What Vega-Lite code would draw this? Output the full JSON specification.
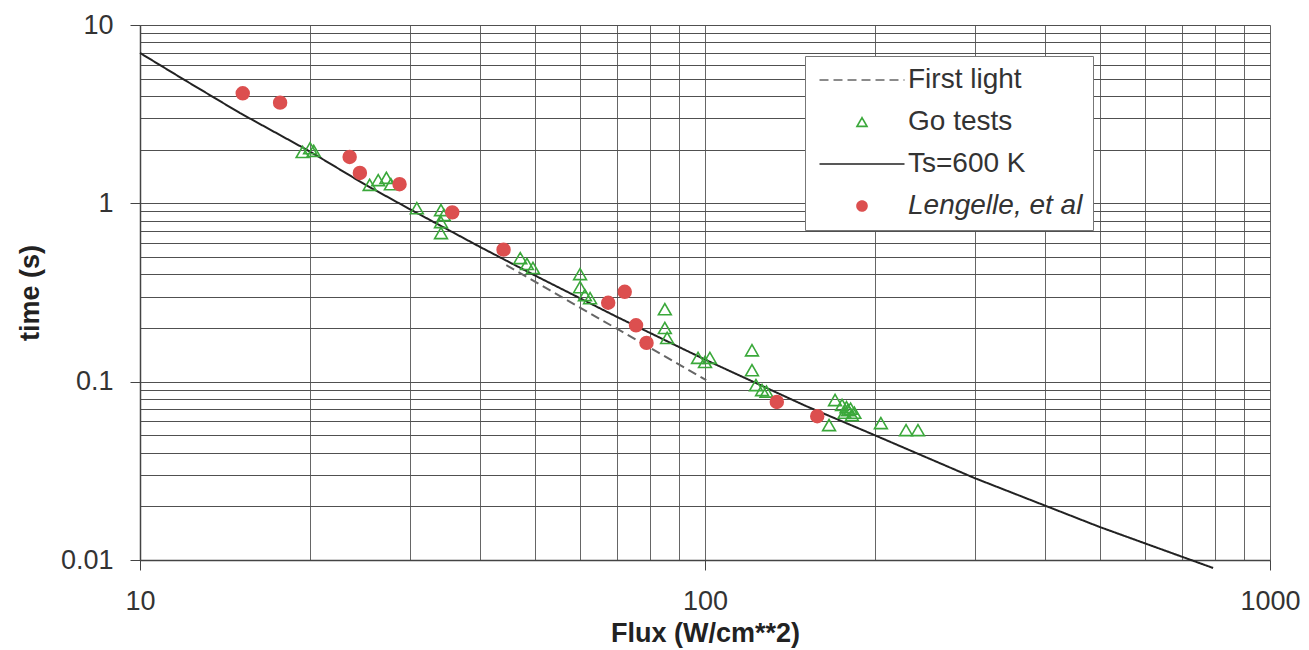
{
  "$schema": "https://vega.github.io/schema/vega-lite/v6.json",
  "width": 1130,
  "height": 535,
  "autosize": {"type": "none"},
  "padding": {"left": 140, "top": 25, "right": 39, "bottom": 90},
  "background": "white",
  "config": {
    "view": {"stroke": null},
    "font": "Liberation Sans",
    "legend": {
      "orient": "none",
      "legendX": 665,
      "legendY": 31,
      "padding": 10,
      "fillColor": "white",
      "strokeColor": "#777777",
      "labelFont": "Liberation Sans",
      "labelFontSize": 28,
      "labelColor": "#333333",
      "labelLimit": 0,
      "symbolSize": 100,
      "symbolStrokeWidth": 1.6,
      "symbolOffset": 33,
      "labelOffset": 32,
      "rowPadding": 14
    }
  },
  "datasets": {
    "lines": [
      {"series": "Ts=600 K", "flux": 10, "time": 6.97},
      {"series": "Ts=600 K", "flux": 12, "time": 4.91},
      {"series": "Ts=600 K", "flux": 15, "time": 3.22},
      {"series": "Ts=600 K", "flux": 20, "time": 1.95},
      {"series": "Ts=600 K", "flux": 25, "time": 1.276},
      {"series": "Ts=600 K", "flux": 30, "time": 0.929},
      {"series": "Ts=600 K", "flux": 40, "time": 0.569},
      {"series": "Ts=600 K", "flux": 50, "time": 0.394},
      {"series": "Ts=600 K", "flux": 70, "time": 0.23},
      {"series": "Ts=600 K", "flux": 100, "time": 0.133},
      {"series": "Ts=600 K", "flux": 150, "time": 0.0736},
      {"series": "Ts=600 K", "flux": 200, "time": 0.05},
      {"series": "Ts=600 K", "flux": 300, "time": 0.0288},
      {"series": "Ts=600 K", "flux": 500, "time": 0.0153},
      {"series": "Ts=600 K", "flux": 793, "time": 0.00902},
      {"series": "First light", "flux": 44.5, "time": 0.45},
      {"series": "First light", "flux": 100.5, "time": 0.102}
    ],
    "points": [
      {"series": "Go tests", "flux": 19.4, "time": 1.94},
      {"series": "Go tests", "flux": 20.0, "time": 2.04},
      {"series": "Go tests", "flux": 20.3, "time": 1.97},
      {"series": "Go tests", "flux": 25.5, "time": 1.27},
      {"series": "Go tests", "flux": 26.4, "time": 1.35},
      {"series": "Go tests", "flux": 27.3, "time": 1.39},
      {"series": "Go tests", "flux": 27.8, "time": 1.28},
      {"series": "Go tests", "flux": 30.9, "time": 0.94},
      {"series": "Go tests", "flux": 34.1, "time": 0.917},
      {"series": "Go tests", "flux": 34.1, "time": 0.785},
      {"series": "Go tests", "flux": 34.1, "time": 0.681},
      {"series": "Go tests", "flux": 34.5, "time": 0.86},
      {"series": "Go tests", "flux": 47.1, "time": 0.493},
      {"series": "Go tests", "flux": 48.4, "time": 0.457},
      {"series": "Go tests", "flux": 49.6, "time": 0.434},
      {"series": "Go tests", "flux": 60.1, "time": 0.401},
      {"series": "Go tests", "flux": 60.1, "time": 0.339},
      {"series": "Go tests", "flux": 61.3, "time": 0.306},
      {"series": "Go tests", "flux": 62.6, "time": 0.294},
      {"series": "Go tests", "flux": 84.9, "time": 0.255},
      {"series": "Go tests", "flux": 84.9, "time": 0.2},
      {"series": "Go tests", "flux": 85.7, "time": 0.176},
      {"series": "Go tests", "flux": 97.2, "time": 0.136},
      {"series": "Go tests", "flux": 100, "time": 0.129},
      {"series": "Go tests", "flux": 102, "time": 0.136},
      {"series": "Go tests", "flux": 121.1, "time": 0.15},
      {"series": "Go tests", "flux": 121.1, "time": 0.116},
      {"series": "Go tests", "flux": 123.1, "time": 0.0957},
      {"series": "Go tests", "flux": 126.2, "time": 0.0897},
      {"series": "Go tests", "flux": 128.5, "time": 0.088},
      {"series": "Go tests", "flux": 169.9, "time": 0.0789},
      {"series": "Go tests", "flux": 165.8, "time": 0.0571},
      {"series": "Go tests", "flux": 174.8, "time": 0.074},
      {"series": "Go tests", "flux": 179.1, "time": 0.0693},
      {"series": "Go tests", "flux": 182, "time": 0.065},
      {"series": "Go tests", "flux": 176.6, "time": 0.067},
      {"series": "Go tests", "flux": 183.8, "time": 0.067},
      {"series": "Go tests", "flux": 178, "time": 0.072},
      {"series": "Go tests", "flux": 181, "time": 0.0705},
      {"series": "Go tests", "flux": 204.8, "time": 0.0586},
      {"series": "Go tests", "flux": 226.9, "time": 0.0535},
      {"series": "Go tests", "flux": 238.2, "time": 0.0535},
      {"series": "Lengelle, et al", "flux": 15.2, "time": 4.14},
      {"series": "Lengelle, et al", "flux": 17.7, "time": 3.67},
      {"series": "Lengelle, et al", "flux": 23.5, "time": 1.82},
      {"series": "Lengelle, et al", "flux": 24.5, "time": 1.48},
      {"series": "Lengelle, et al", "flux": 28.8, "time": 1.28},
      {"series": "Lengelle, et al", "flux": 35.7, "time": 0.89},
      {"series": "Lengelle, et al", "flux": 44.0, "time": 0.55},
      {"series": "Lengelle, et al", "flux": 67.4, "time": 0.277},
      {"series": "Lengelle, et al", "flux": 72.1, "time": 0.319},
      {"series": "Lengelle, et al", "flux": 75.5, "time": 0.207},
      {"series": "Lengelle, et al", "flux": 78.8, "time": 0.165},
      {"series": "Lengelle, et al", "flux": 134, "time": 0.077},
      {"series": "Lengelle, et al", "flux": 158, "time": 0.064}
    ]
  },
  "encoding": {
    "x": {
      "field": "flux",
      "type": "quantitative",
      "scale": {"type": "log", "domain": [10, 1000], "nice": false},
      "axis": {
        "title": "Flux (W/cm**2)",
        "titleFont": "Liberation Sans",
        "titleFontSize": 27,
        "titleFontWeight": "bold",
        "titleColor": "#222222",
        "titlePadding": 6,
        "values": [10, 20, 30, 40, 50, 60, 70, 80, 90, 100, 200, 300, 400, 500, 600, 700, 800, 900, 1000],
        "labelExpr": "(datum.value == 10 || datum.value == 100 || datum.value == 1000) ? toString(datum.value) : ''",
        "labelFont": "Liberation Sans",
        "labelFontSize": 27,
        "labelColor": "#333333",
        "labelPadding": 18,
        "labelFlush": false,
        "labelOverlap": false,
        "labelBound": false,
        "tickSize": 10,
        "tickColor": "#444444",
        "tickOpacity": {"condition": {"test": "datum.value == 10 || datum.value == 100 || datum.value == 1000", "value": 1}, "value": 0},
        "grid": true,
        "gridColor": "#666666",
        "gridWidth": 1,
        "gridOpacity": 1,
        "domainColor": "#444444",
        "domainWidth": 1.5
      }
    },
    "y": {
      "field": "time",
      "type": "quantitative",
      "scale": {"type": "log", "domain": [0.01, 10], "nice": false},
      "axis": {
        "title": "time (s)",
        "titleFont": "Liberation Sans",
        "titleFontSize": 27,
        "titleFontWeight": "bold",
        "titleColor": "#222222",
        "titlePadding": 16,
        "values": [0.01, 0.02, 0.03, 0.04, 0.05, 0.06, 0.07, 0.08, 0.09, 0.1, 0.2, 0.3, 0.4, 0.5, 0.6, 0.7, 0.8, 0.9, 1, 2, 3, 4, 5, 6, 7, 8, 9, 10],
        "labelExpr": "datum.value == 0.01 ? '0.01' : datum.value == 0.1 ? '0.1' : datum.value == 1 ? '1' : datum.value == 10 ? '10' : ''",
        "labelFont": "Liberation Sans",
        "labelFontSize": 27,
        "labelColor": "#333333",
        "labelPadding": 17,
        "labelFlush": false,
        "labelOverlap": false,
        "labelBound": false,
        "tickSize": 10,
        "tickColor": "#444444",
        "tickOpacity": {"condition": {"test": "datum.value == 0.01 || datum.value == 0.1 || datum.value == 1 || datum.value == 10", "value": 1}, "value": 0},
        "grid": true,
        "gridColor": "#505050",
        "gridWidth": 1.1,
        "gridOpacity": 1,
        "domainColor": "#444444",
        "domainWidth": 1.5
      }
    }
  },
  "layer": [
    {
      "data": {"name": "lines"},
      "mark": {"type": "line", "strokeWidth": 2},
      "encoding": {
        "stroke": {
          "field": "series",
          "type": "nominal",
          "scale": {"domain": ["First light", "Go tests", "Ts=600 K", "Lengelle, et al"], "range": ["#666666", "#3aa83a", "#222222", "#dc4f4f"]},
          "legend": {"title": null, "encode": {"labels": {"update": {"fontStyle": {"signal": "datum.value === 'Lengelle, et al' ? 'italic' : 'normal'"}}}}}
        },
        "strokeDash": {
          "field": "series",
          "type": "nominal",
          "scale": {"domain": ["First light", "Go tests", "Ts=600 K", "Lengelle, et al"], "range": [[9, 5], [1, 0], [1, 0], [1, 0]]},
          "legend": {"title": null, "encode": {"labels": {"update": {"fontStyle": {"signal": "datum.value === 'Lengelle, et al' ? 'italic' : 'normal'"}}}}}
        }
      }
    },
    {
      "data": {"name": "points"},
      "mark": {"type": "point", "filled": true, "size": 165, "strokeWidth": 1.6, "opacity": 1},
      "encoding": {
        "shape": {
          "field": "series",
          "type": "nominal",
          "scale": {"domain": ["First light", "Go tests", "Ts=600 K", "Lengelle, et al"], "range": ["M-8.5,0L8.5,0", "triangle-up", "M-8.5,0L8.5,0", "circle"]},
          "legend": {"title": null, "encode": {"labels": {"update": {"fontStyle": {"signal": "datum.value === 'Lengelle, et al' ? 'italic' : 'normal'"}}}}}
        },
        "stroke": {
          "field": "series",
          "type": "nominal",
          "scale": {"domain": ["First light", "Go tests", "Ts=600 K", "Lengelle, et al"], "range": ["#666666", "#3aa83a", "#222222", "#dc4f4f"]},
          "legend": {"title": null, "encode": {"labels": {"update": {"fontStyle": {"signal": "datum.value === 'Lengelle, et al' ? 'italic' : 'normal'"}}}}}
        },
        "fill": {
          "field": "series",
          "type": "nominal",
          "scale": {"domain": ["First light", "Go tests", "Ts=600 K", "Lengelle, et al"], "range": ["transparent", "transparent", "transparent", "#dc4f4f"]},
          "legend": {"title": null, "encode": {"labels": {"update": {"fontStyle": {"signal": "datum.value === 'Lengelle, et al' ? 'italic' : 'normal'"}}}}}
        }
      }
    }
  ]
}
